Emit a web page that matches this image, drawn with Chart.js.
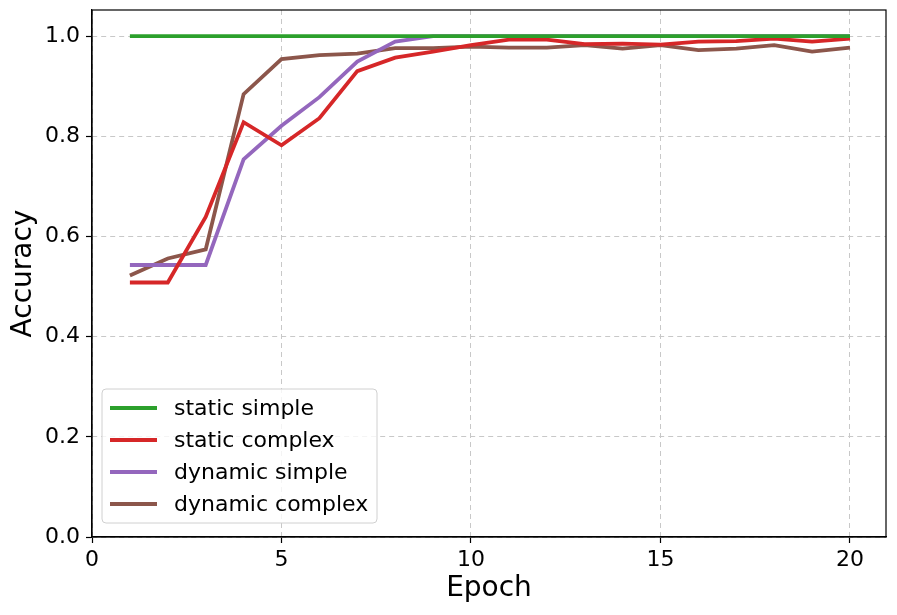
<!DOCTYPE html>
<html>
<head>
<meta charset="utf-8">
<script src="https://cdn.jsdelivr.net/npm/chart.js@4"></script>
<style>
  html, body { margin: 0; padding: 0; background: #fff; }
  #wrap { width: 897px; height: 615px; }
</style>
</head>
<body>
<div id="wrap"><canvas id="chart"></canvas></div>
<script>
// Dados
const epochs = [1, 2, 3, 4, 5, 6, 7, 8, 9, 10, 11, 12, 13, 14, 15, 16, 17, 18, 19, 20];
const staticSimple = [1, 1, 1, 1, 1, 1, 1, 1, 1, 1, 1, 1, 1, 1, 1, 1, 1, 1, 1, 1];
const staticComplex = [0.508, 0.508, 0.639, 0.828, 0.782, 0.836, 0.930, 0.957, 0.969, 0.982,
  0.993, 0.993, 0.984, 0.985, 0.983, 0.989, 0.990, 0.995, 0.989, 0.995];
const dynamicSimple = [0.543, 0.543, 0.543, 0.754, 0.821, 0.878, 0.949, 0.989, 1, 1,
  1, 1, 1, 1, 1, 1, 1, 1, 1, 1];
const dynamicComplex = [0.522, 0.556, 0.574, 0.884, 0.954, 0.962, 0.965, 0.976, 0.976, 0.979,
  0.977, 0.977, 0.982, 0.975, 0.982, 0.972, 0.975, 0.982, 0.969, 0.977];
const xTicks = [0, 5, 10, 15, 20];
const yTicks = [0, 0.2, 0.4, 0.6, 0.8, 1.0];

const FONT = "'DejaVu Sans', sans-serif";

function pontos(valores) {
  return epochs.map((e, i) => ({ x: e, y: valores[i] }));
}

function serie(label, valores, cor) {
  return {
    label,
    data: pontos(valores),
    borderColor: cor,
    backgroundColor: cor,
    borderWidth: 3.8,
    pointRadius: 0,
    tension: 0,
    fill: false,
  };
}

// Moldura do gráfico + legenda dentro da área
const molduraELegenda = {
  id: "molduraELegenda",
  afterDatasetsDraw(chart) {
    const { ctx, chartArea: a } = chart;
    ctx.save();
    ctx.strokeStyle = "#000";
    ctx.lineWidth = 1.2;
    ctx.strokeRect(a.left, a.top, a.right - a.left, a.bottom - a.top);

    const bx = a.left + 10, by = a.bottom - 148, bw = 275, bh = 134;
    ctx.beginPath();
    ctx.roundRect(bx, by, bw, bh, 4);
    ctx.fillStyle = "rgba(255,255,255,0.8)";
    ctx.fill();
    ctx.strokeStyle = "#d0d0d0";
    ctx.lineWidth = 1;
    ctx.stroke();

    ctx.font = "22px " + FONT;
    ctx.textBaseline = "middle";
    chart.data.datasets.forEach((ds, i) => {
      const y = by + 19 + i * 32;
      ctx.strokeStyle = ds.borderColor;
      ctx.lineWidth = 3.8;
      ctx.beginPath();
      ctx.moveTo(bx + 8, y);
      ctx.lineTo(bx + 55, y);
      ctx.stroke();
      ctx.fillStyle = "#000";
      ctx.fillText(ds.label, bx + 72, y + 1);
    });
    ctx.restore();
  },
};

function configurarGrafico() {
  const grade = {
    color: "#c8c8c8",
    tickColor: "#000",
    tickLength: 6,
    tickBorderDash: [],
    tickWidth: 1.2,
  };
  const borda = { color: "#000", width: 1.2, dash: [5, 4] };

  new Chart(document.getElementById("chart").getContext("2d"), {
    type: "line",
    data: {
      datasets: [
        serie("static simple", staticSimple, "#2ca02c"),
        serie("static complex", staticComplex, "#d62728"),
        serie("dynamic simple", dynamicSimple, "#9467bd"),
        serie("dynamic complex", dynamicComplex, "#8c564b"),
      ],
    },
    options: {
      responsive: true,
      maintainAspectRatio: false,
      animation: false,
      layout: { padding: { top: 10, right: 11, left: 0, bottom: 0 } },
      plugins: { legend: { display: false }, tooltip: { enabled: false } },
      scales: {
        x: {
          type: "linear",
          min: 0,
          max: 20.95,
          afterBuildTicks: (s) => { s.ticks = xTicks.map((v) => ({ value: v })); },
          afterFit: (s) => {
            s.height = 78;
            s.paddingLeft = 0;
            s.paddingRight = 0;
          },
          ticks: {
            color: "#000",
            font: { family: FONT, size: 22 },
            padding: 4,
            maxRotation: 0,
            callback: (v) => String(v),
          },
          grid: grade,
          border: borda,
          title: {
            display: true,
            text: "Epoch",
            color: "#000",
            font: { family: FONT, size: 28 },
            padding: { top: 0, bottom: 9 },
          },
        },
        y: {
          type: "linear",
          min: 0,
          max: 1.052,
          afterBuildTicks: (s) => { s.ticks = yTicks.map((v) => ({ value: v })); },
          afterFit: (s) => {
            s.width = 92;
            s.paddingTop = 0;
            s.paddingBottom = 0;
          },
          ticks: {
            color: "#000",
            font: { family: FONT, size: 22 },
            padding: 6,
            callback: (v) => Number(v).toFixed(1),
          },
          grid: grade,
          border: borda,
          title: {
            display: true,
            text: "Accuracy",
            color: "#000",
            font: { family: FONT, size: 28 },
            padding: { top: 7, bottom: 0 },
          },
        },
      },
    },
    plugins: [molduraELegenda],
  });
}

document.addEventListener("DOMContentLoaded", configurarGrafico);
</script>
</body>
</html>
